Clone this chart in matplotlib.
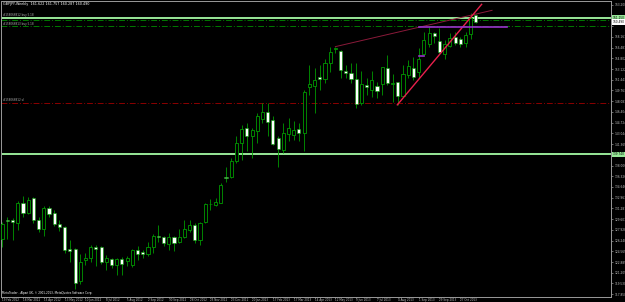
import numpy as np
import pandas as pd
import matplotlib
matplotlib.use('Agg')
import matplotlib.pyplot as plt

# GBPJPY weekly candles, 19 Feb 2012 .. 17 Nov 2013
opens = [126.56, 129.53, 129.53, 129.06, 132.19, 130.63, 132.97, 129.42, 128.12, 131.30,
         130.63, 128.80, 128.39, 125.00, 125.00, 119.84, 123.28, 123.59, 125.31, 125.31,
         122.97, 123.43, 122.50, 123.43, 123.12, 122.50, 124.84, 124.42, 124.22, 125.31,
         127.03, 126.87, 125.78, 126.87, 125.98, 126.87, 127.97, 128.75, 126.30, 129.11,
         132.03, 131.88, 132.19, 136.26, 136.26, 138.65, 141.57, 143.92, 142.56, 143.34,
         145.33, 146.42, 145.17, 142.36, 140.37, 142.98, 142.72, 143.76, 143.14, 150.28,
         150.53, 151.85, 151.53, 154.13, 156.27, 155.96, 152.88, 152.57, 151.63, 147.88,
         150.64, 149.86, 150.49, 150.80, 153.25, 150.75, 151.16, 148.92, 152.21, 153.25,
         152.72, 155.49, 157.05, 158.73, 157.57, 155.49, 156.74, 158.10, 157.79, 157.16,
         158.62, 161.622]
highs = [129.22, 130.00, 129.84, 132.50, 133.29, 133.13, 133.13, 130.00, 131.61, 131.61,
         130.99, 129.42, 128.48, 126.40, 125.15, 124.22, 124.37, 125.62, 125.62, 125.47,
         124.06, 123.59, 123.59, 123.75, 123.90, 125.00, 125.47, 124.84, 125.98, 127.34,
         128.75, 126.92, 127.50, 126.92, 128.08, 129.53, 129.53, 129.02, 129.11, 132.14,
         132.77, 132.93, 135.27, 137.77, 139.18, 142.56, 144.39, 144.65, 143.87, 146.31,
         147.78, 147.78, 145.69, 142.67, 144.65, 145.44, 145.06, 144.65, 149.86, 153.77,
         153.25, 153.77, 154.71, 156.63, 156.63, 156.12, 153.77, 154.04, 154.04, 152.88,
         151.69, 152.88, 151.16, 153.50, 155.33, 152.36, 151.16, 153.77, 154.55, 155.07,
         156.38, 158.98, 159.76, 158.98, 159.51, 157.68, 158.73, 158.98, 158.20, 158.98,
         161.86, 161.757]
lows = [125.31, 126.56, 126.40, 127.97, 130.00, 130.47, 129.06, 127.66, 127.03, 130.00,
        128.59, 127.70, 124.37, 122.97, 118.74, 119.37, 122.50, 122.97, 122.34, 122.65,
        121.71, 122.03, 120.78, 120.93, 122.34, 122.18, 123.28, 123.59, 123.90, 124.37,
        125.98, 125.36, 124.84, 124.58, 125.89, 126.67, 127.66, 125.89, 125.62, 129.02,
        131.10, 131.61, 132.14, 135.36, 136.05, 138.45, 138.91, 140.21, 139.18, 141.53,
        144.65, 142.67, 141.26, 137.71, 139.96, 141.78, 141.93, 141.78, 140.21, 149.08,
        146.26, 149.86, 150.96, 152.72, 155.65, 151.69, 151.69, 150.91, 147.00, 147.52,
        149.08, 148.72, 148.56, 149.08, 150.64, 148.03, 147.52, 148.77, 151.74, 151.43,
        151.69, 155.33, 156.63, 157.16, 155.60, 154.66, 156.63, 156.90, 156.54, 156.54,
        157.79, 160.287]
closes = [128.91, 129.38, 129.11, 132.19, 130.63, 132.66, 129.53, 128.12, 131.41, 130.47,
          128.80, 128.39, 124.84, 124.69, 119.68, 122.97, 123.59, 125.31, 125.00, 122.97,
          123.59, 122.50, 123.43, 122.65, 123.59, 124.84, 124.22, 124.22, 125.31, 127.03,
          126.76, 125.94, 126.87, 125.94, 126.87, 128.12, 128.75, 126.30, 129.06, 132.03,
          131.92, 132.24, 135.01, 136.10, 138.65, 141.57, 143.76, 142.67, 143.50, 145.69,
          146.42, 144.86, 141.42, 140.64, 143.14, 143.92, 143.61, 143.14, 149.55, 150.75,
          151.43, 151.63, 154.04, 155.85, 156.43, 152.99, 152.57, 151.53, 147.67, 150.75,
          150.38, 151.43, 149.75, 153.41, 150.91, 151.00, 148.92, 152.36, 153.61, 151.94,
          154.66, 157.68, 158.73, 158.35, 155.85, 157.05, 157.95, 157.26, 157.01, 158.46,
          161.07, 160.490]

dates = pd.date_range('2012-02-19', periods=len(opens), freq='W-SUN')
date_ticks = list(range(0, len(opens), 4))
date_labels = [f"{dates[i].day} {dates[i].strftime('%b %Y')}" for i in date_ticks]

price_ticks = np.linspace(117.85, 163.2, 28)

# horizontal levels
level_light = [161.15, 139.74]
level_green = [160.81, 159.87]
level_red = [147.78]
bid = 160.49

# drawn objects (bar index, price)
trend_red = ([75.9, 92.1], [147.51, 163.26])
trend_dark = ([64.0, 94.1], [156.63, 162.32])
purple_main = ([80.1, 96.9], [159.66, 159.66])
purple_small = ([80.1, 81.1], [155.22, 155.22])

green = '#009a00'

fig = plt.figure(figsize=(6.25, 3.02), dpi=100, facecolor='black')
ax = fig.add_axes([1.5 / 625, 5.5 / 302, 609.5 / 625, 295.5 / 302], facecolor='black')

x = np.arange(len(opens))
o = np.array(opens)
c = np.array(closes)
ax.vlines(x, lows, highs, color=green, linewidth=0.6, zorder=2)
bull = c >= o
ax.bar(x[bull], (c - o)[bull], bottom=o[bull], width=0.6, facecolor='black',
       edgecolor=green, linewidth=0.6, zorder=3)
ax.bar(x[~bull], (o - c)[~bull], bottom=c[~bull], width=0.6, facecolor='white',
       edgecolor=green, linewidth=0.4, zorder=3)

for p in level_light:
    ax.axhline(p, color='#98e898', linewidth=1.4, zorder=1)
for p in level_green:
    ax.axhline(p, color='#007a00', linewidth=0.7, linestyle=(0, (6, 2, 1, 2)), zorder=1)
for p in level_red:
    ax.axhline(p, color='#8b0000', linewidth=0.7, linestyle=(0, (6, 2, 1, 2)), zorder=1)

ax.plot(*trend_dark, color='#8b1a3a', linewidth=0.7, zorder=4)
ax.plot(*trend_red, color='#e8204c', linewidth=1.0, zorder=4)
ax.plot(*purple_main, color='#9932cc', linewidth=1.2, zorder=4)
ax.plot(*purple_small, color='#9932cc', linewidth=1.2, zorder=4)

# order labels on the left
ytr = ax.get_yaxis_transform()
ax.text(0.003, 161.59, '#158066812 buy 5.18', transform=ytr, fontsize=2, color='#b0b0b0', va='center')
ax.text(0.003, 160.18, '#158066813 buy 5.18', transform=ytr, fontsize=2, color='#b0b0b0', va='center')
ax.text(0.003, 148.25, '#158066812 sl', transform=ytr, fontsize=2, color='#b0b0b0', va='center')

ax.set_xlim(-0.134, 116.95)
ax.set_ylim(117.49, 163.78)

# right price scale; labels hidden where a price box sits
boxed = level_light + [bid]
ax.yaxis.tick_right()
ax.set_yticks(price_ticks)
ax.set_yticklabels(['' if min(abs(v - b) for b in boxed) < 0.75 else f'{v:.3f}'
                    for v in price_ticks])
ax.tick_params(axis='y', direction='out', length=1.5, width=0.4, pad=0.8,
               labelsize=2.1, colors='#c0c0c0')
ax.set_xticks(date_ticks)
ax.set_xticklabels(date_labels, ha='left')
ax.tick_params(axis='x', direction='out', length=1.0, width=0.4, pad=0.1,
               labelsize=2.0, colors='#c0c0c0')
for s in ax.spines.values():
    s.set_color('#9a9a9a')
    s.set_linewidth(0.7)

# price boxes on right axis
box_kw = dict(transform=ytr, fontsize=2.1, color='black', va='center', ha='left')
ax.text(1.003, level_light[0], f'{level_light[0]:.3f}',
        bbox=dict(boxstyle='square,pad=0.2', fc='#98e898', ec='none'), **box_kw)
ax.text(1.003, bid, f'{bid:.3f}',
        bbox=dict(boxstyle='square,pad=0.2', fc='white', ec='none'), **box_kw)
ax.text(1.003, level_light[1], f'{level_light[1]:.3f}',
        bbox=dict(boxstyle='square,pad=0.2', fc='#98e898', ec='none'), **box_kw)

fig.text(3 / 625, 1 - 3.5 / 302, 'GBPJPY,Weekly  161.622 161.757 160.287 160.490',
         fontsize=2.4, color='white', va='center')
fig.text(2.5 / 625, 1 - 293 / 302, 'MetaTrader - Alpari UK, \u00a9 2001-2013, MetaQuotes Software Corp.',
         fontsize=2.0, color='white', va='center')

fig.savefig('out.png', dpi=100, facecolor='black')
